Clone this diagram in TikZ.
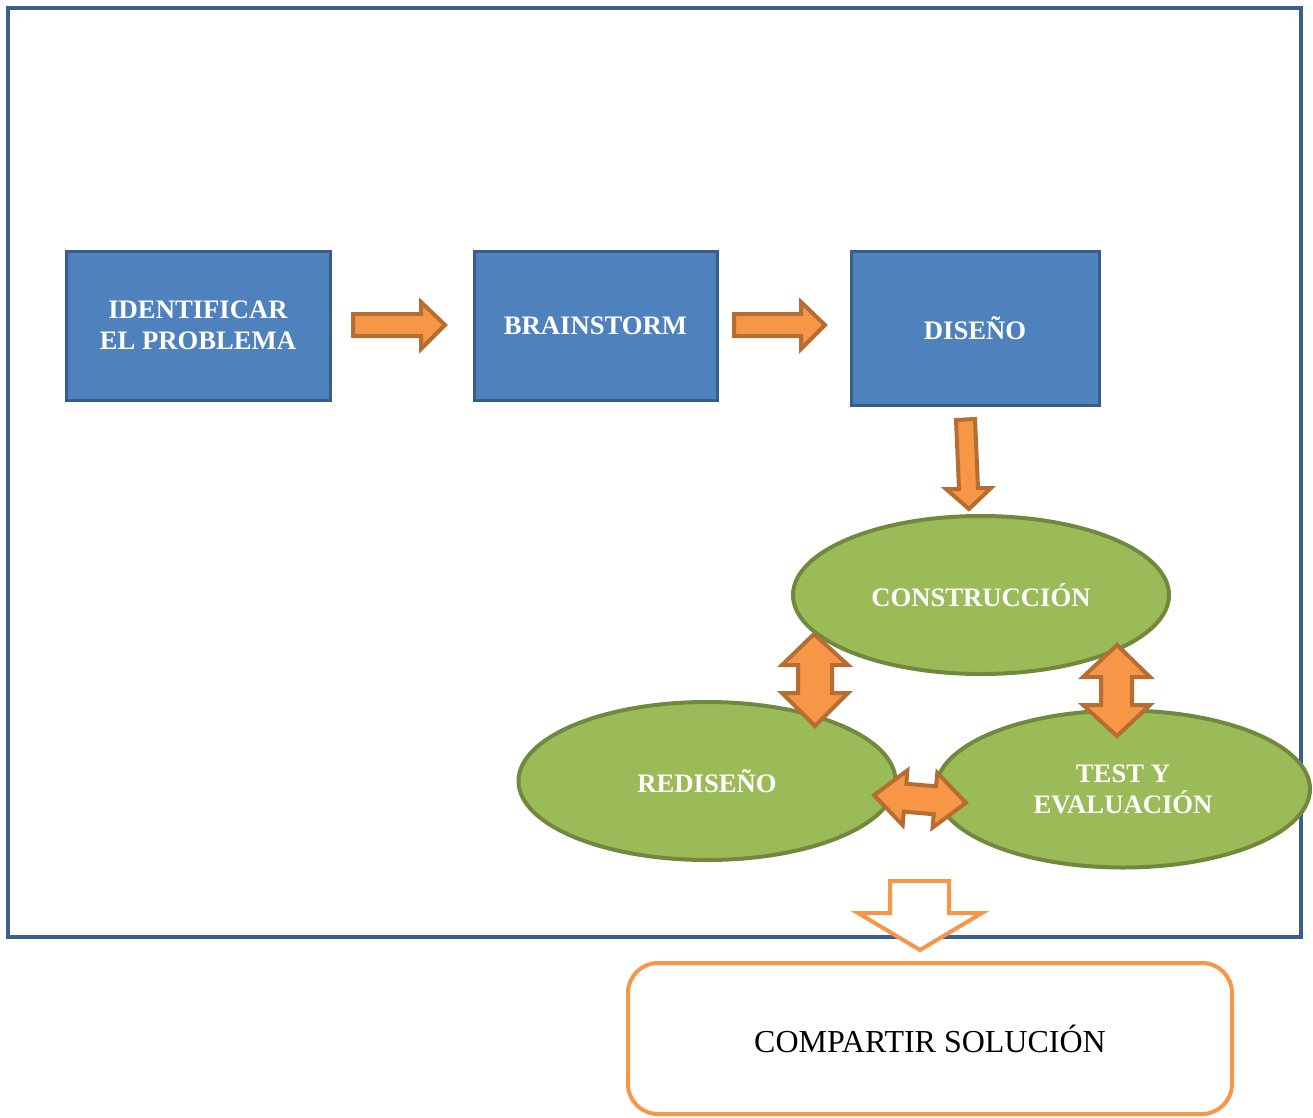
\documentclass[tikz,border=0pt]{standalone}
\usepackage{fontspec}
\setmainfont{Liberation Serif}
\usetikzlibrary{shapes.geometric}
\definecolor{frameblue}{HTML}{3A5F8E}
\definecolor{boxblue}{HTML}{4F81BD}
\definecolor{boxedge}{HTML}{385D8A}
\definecolor{leafgreen}{HTML}{9BBB59}
\definecolor{leafedge}{HTML}{71893F}
\definecolor{arroworange}{HTML}{F79646}
\definecolor{arrowedge}{HTML}{B66D31}
\tikzset{
  bluebox/.style={draw=boxedge, fill=boxblue, line width=2.25pt, text=white,
    font=\fontsize{20}{23.25}\selectfont\bfseries, align=center, inner sep=0pt},
  greenell/.style={ellipse, draw=leafedge, fill=leafgreen, line width=3pt, text=white,
    font=\fontsize{20}{23.25}\selectfont\bfseries, align=center, inner sep=0pt},
  blockarrow/.style={draw=arrowedge, fill=arroworange, line width=3pt, line join=miter},
  hollowarrow/.style={draw=arroworange, fill=white, line width=3pt, line join=miter},
}
\begin{document}
\begin{tikzpicture}[x=0.75pt,y=-0.75pt]
\useasboundingbox (0,0) rectangle (1313,1117);
% frame
\draw[frameblue, line width=3pt] (8,8) rectangle (1301,937);
% boxes
\node[bluebox, minimum width=198pt, minimum height=111.75pt] (ident) at (198,325.5) {IDENTIFICAR\\EL PROBLEMA};
\node[bluebox, minimum width=182.25pt, minimum height=111.75pt] (brain) at (595.5,325.5) {BRAINSTORM};
\node[bluebox, minimum width=186pt, minimum height=115.5pt] (diseno) at (975,328) {DISEÑO};
% ellipses
\node[greenell, minimum width=282pt, minimum height=118.5pt] (constr) at (981,595) {CONSTRUCCIÓN};
\node[greenell, minimum width=282.75pt, minimum height=118.5pt] (redis) at (707,781) {REDISEÑO};
\node[greenell, minimum width=280.5pt, minimum height=117.75pt] (test) at (1123,789) {TEST Y\\EVALUACIÓN};
% right arrows
\draw[blockarrow] (353,314) -- (421,314) -- (421,302) -- (445,325) -- (421,349) -- (421,336) -- (353,336) -- cycle;
\draw[blockarrow] (734,314) -- (801,314) -- (801,302) -- (825,325) -- (801,349) -- (801,336) -- (734,336) -- cycle;
% down arrow
\draw[blockarrow] (956,420) -- (975,419) -- (978,488) -- (991,488) -- (969,509) -- (946,489) -- (959,489) -- cycle;
% vertical double arrows
\draw[blockarrow] (814,634) -- (848,665) -- (832,665) -- (832,693) -- (848,693) -- (815,726) -- (782,693) -- (798,693) -- (798,665) -- (782,665) -- cycle;
\draw[blockarrow] (1117,645) -- (1150,677) -- (1132,677) -- (1132,705) -- (1150,705) -- (1117,736) -- (1083,705) -- (1101,705) -- (1101,677) -- (1083,677) -- cycle;
% horizontal double arrow (slightly tilted)
\draw[blockarrow] (874,795.2) -- (907.4,770.4) -- (906.3,783.8) -- (936.2,786.3) -- (937.3,772.9) -- (966,802.8) -- (932.6,827.6) -- (933.7,814.2) -- (903.8,811.7) -- (902.7,825.1) -- cycle;
% hollow arrow
\draw[hollowarrow] (890,881) -- (949,881) -- (949,913) -- (982,913) -- (920,950) -- (858,913) -- (890,913) -- cycle;
% final box
\node[draw=arroworange, line width=3pt, rounded corners=22.5pt, minimum width=453pt, minimum height=113.25pt, font=\fontsize{24}{28}\selectfont] (share) at (930,1038.5) {COMPARTIR SOLUCIÓN};
\end{tikzpicture}
\end{document}
